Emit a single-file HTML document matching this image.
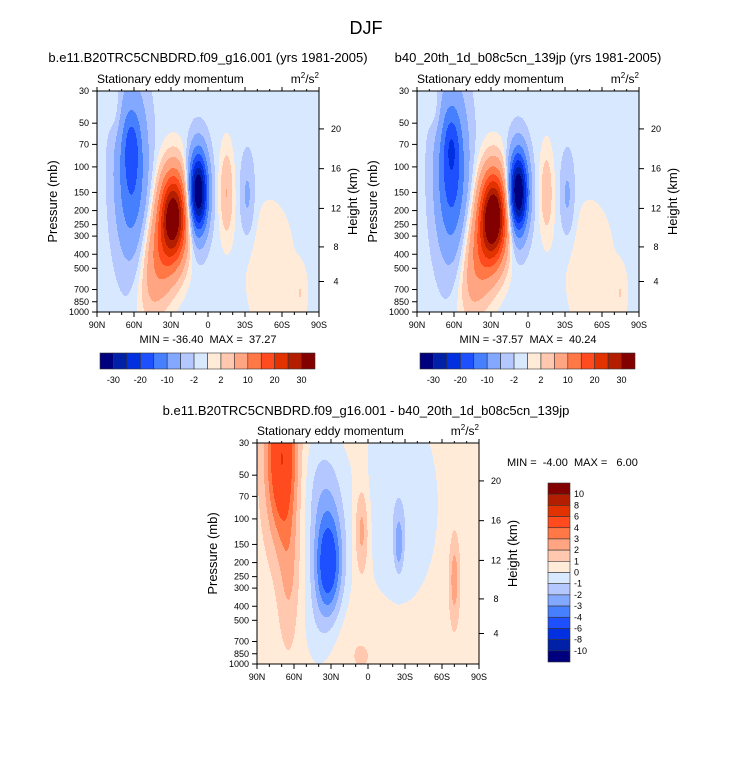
<!DOCTYPE html>
<html><head><meta charset="utf-8">
<style>
html,body{margin:0;padding:0;background:#fff;}
svg{display:block;font-family:"Liberation Sans",Arial,sans-serif;}
text{white-space:pre;}
</style></head>
<body>
<svg id="fig" width="733" height="758" viewBox="0 0 733 758">
<text x="366" y="34" font-size="18" text-anchor="middle">DJF</text>
<g id="p1"></g>
<g id="p2"></g>
<g id="p3"></g>
</svg>
<script>
// ---- data ----
const colors = ["#00007F","#0020A8","#0030E0","#1E50FF","#4680FF","#82A8FF","#B4C8FF","#D7E8FF","#FFEBD7","#FFC8AF","#FFA582","#FF7846","#FF4B1E","#E13200","#B41E00","#820000"];
const levelsAB = [-30,-25,-20,-15,-10,-5,-2,0,2,5,10,15,20,25,30];
const levelsAB_labels = ["-30","-20","-10","-2","2","10","20","30"];
const levelsD = [-10,-8,-6,-4,-3,-2,-1,0,1,2,3,4,6,8,10];
const pTicks = [30,50,70,100,150,200,250,300,400,500,700,850,1000];
const hTicks = [4,8,12,16,20];
const latTicks = [90,60,30,0,-30,-60,-90];
const latLabels = ["90N","60N","30N","0","30S","60S","90S"];
// blob fields: lat, pressure (mb), amplitude, sigma lat (deg), sigma ln p
const aLat = [62,62,28,40,8,-15,-32,48,-50,75,-75];
const aP   = [110,70,220,420,150,150,160,800,500,40,750];
const aAmp = [-15,-5,36,10,-36,6,-5,3,2.5,2.5,2.5];
const aSL  = [9,4,8,9,5.5,4,4,8,15,4,4];
const aSU  = [0.9,0.3,0.5,0.5,0.45,0.5,0.45,0.4,0.8,0.3,0.3];
const aBase = -1;
const bLat = [62,62,28,40,8,-15,-32,48,-50,75,-75];
const bP   = [110,70,220,420,150,150,160,800,500,40,750];
const bAmp = [-17,-5,39,10,-37,5,-5,3,2.5,2.5,2.5];
const bSL  = [9,4,8,9,5.5,4,4,8,15,4,4];
const bSU  = [0.9,0.3,0.5,0.5,0.45,0.5,0.45,0.4,0.8,0.3,0.3];
const bBase = -1;
const dLat = [70,64,32,32,5,-25,-70,5,38,-25,40];
const dP   = [38,250,220,120,120,150,260,850,60,80,500];
const dAmp = [5.5,1.5,-4.3,-1.5,2.3,-2.3,2.2,0.6,-1.3,-1.4,-0.9];
const dSL  = [9,6,8,10,4,2.5,3,15,12,22,10];
const dSU  = [0.9,0.8,0.55,0.7,0.5,0.3,0.5,0.4,0.7,1.1,0.6];
const dBase = 0.5;

const NS="http://www.w3.org/2000/svg";
function mk(parent,tag,attrs,txt){const e=document.createElementNS(NS,tag);for(const k in attrs)e.setAttribute(k,attrs[k]);if(txt!==undefined)e.textContent=txt;parent.appendChild(e);return e;}
function hToP(km){const z=km*1000;return z<11000?1013.25*Math.pow(1-2.2558e-5*z,5.256):226.32*Math.exp(-(z-11000)/6341.6);}

function panel(g,L,T,W,H,bl,fld,levels,title,minmax){
  const xS=lat=>L+(90-lat)/180*W;
  const yS=p=>T+Math.log(p/30)/Math.log(1000/30)*H;
  const latOf=x=>90-(x-L)/W*180;
  const uOf=y=>Math.log(30)+(y-T)/H*Math.log(1000/30);
  function val(lat,u){let v=bl;for(let i=0;i<fld[0].length;i++){const dl=(lat-fld[0][i])/fld[3][i],du=(u-Math.log(fld[1][i]))/fld[4][i];v+=fld[2][i]*Math.exp(-0.5*(dl*dl+du*du));}return v;}
  function lvl(v){let k=0;while(k<levels.length&&v>=levels[k])k++;return k;}
  const cg=mk(g,'g',{});
  
  
  for(let y=0;y<H;y++){
    const u=uOf(T+y+0.5);let start=0,cur=lvl(val(latOf(L+0.5),u));
    for(let x=1;x<=W;x++){
      const k=x<W?lvl(val(latOf(L+x+0.5),u)):-1;
      if(k!==cur){const r=mk(cg,'rect',{x:L+start,y:T+y,width:x-start,height:1.2,fill:colors[cur]});
        
        
        start=x;cur=k;}
    }
  }
  mk(g,'rect',{x:L,y:T,width:W,height:H,fill:'none',stroke:'#000','stroke-width':1});
  latTicks.forEach((lt,i)=>{const x=xS(lt);mk(g,'line',{x1:x,x2:x,y1:T+H,y2:T+H+5,stroke:'#000'});mk(g,'line',{x1:x,x2:x,y1:T,y2:T-4,stroke:'#000'});
    const t=mk(g,'text',{x:x,y:T+H+16,'font-size':9,'text-anchor':'middle'},latLabels[i]);
    
    });
  for(let lt=80;lt>-90;lt-=10){if(lt%30===0)continue;const x=xS(lt);mk(g,'line',{x1:x,x2:x,y1:T+H,y2:T+H+3,stroke:'#000'});mk(g,'line',{x1:x,x2:x,y1:T,y2:T-2,stroke:'#000'});}
  pTicks.forEach(p=>{const y=yS(p);mk(g,'line',{x1:L-5,x2:L,y1:y,y2:y,stroke:'#000'});
    const t=mk(g,'text',{x:L-8,y:y+3,'font-size':9,'text-anchor':'end'},String(p));
    
    });
  hTicks.forEach(h=>{const y=yS(hToP(h));mk(g,'line',{x1:L+W,x2:L+W+5,y1:y,y2:y,stroke:'#000'});
    const t=mk(g,'text',{x:L+W+17,y:y+3,'font-size':9,'text-anchor':'middle'},String(h));
    
    });
  const yl=mk(g,'text',{x:0,y:0,'font-size':13,'text-anchor':'middle',transform:`translate(${L-40},${T+H/2}) rotate(-90)`},'Pressure (mb)');
  
  
  const hl=mk(g,'text',{x:0,y:0,'font-size':13,'text-anchor':'middle',transform:`translate(${L+W+38},${T+H/2}) rotate(-90)`},'Height (km)');
  
  
  const st=mk(g,'text',{x:L,y:T-8,'font-size':12},'Stationary eddy momentum');
  
  
  const un=mk(g,'text',{x:L+W,y:T-8,'font-size':12,'text-anchor':'end'});
  
  
  un.innerHTML='m<tspan font-size="8" dy="-5">2</tspan><tspan dy="5">/s</tspan><tspan font-size="8" dy="-5">2</tspan>';
  if(title){const tt=mk(g,'text',{x:L+W/2,y:T-29,'font-size':13,'text-anchor':'middle'},title);
    
    }
  if(minmax){const mm=mk(g,'text',{x:L+W/2,y:T+H+31,'font-size':11,'text-anchor':'middle'},minmax);
    
    }
}
function hbar(g,x0,y0,w,h){
  const bw=w/colors.length;
  colors.forEach((c,i)=>{const r=mk(g,'rect',{x:x0+i*bw,y:y0,width:bw,height:h,fill:c,stroke:'#333','stroke-width':0.6});
    
    });
  levelsAB_labels.forEach((s,j)=>{const i=2*j+1;const t=mk(g,'text',{x:x0+i*bw,y:y0+h+14,'font-size':9,'text-anchor':'middle'},s);
    
    });
}
const g1=document.getElementById('p1'),g2=document.getElementById('p2'),g3=document.getElementById('p3');
panel(g1,97,91,222,221,aBase,[aLat,aP,aAmp,aSL,aSU],levelsAB,'b.e11.B20TRC5CNBDRD.f09_g16.001 (yrs 1981-2005)','MIN = -36.40  MAX =  37.27');
hbar(g1,100,353,215,16);
panel(g2,417,91,222,221,bBase,[bLat,bP,bAmp,bSL,bSU],levelsAB,'b40_20th_1d_b08c5cn_139jp (yrs 1981-2005)','MIN = -37.57  MAX =  40.24');
hbar(g2,420,353,215,16);
panel(g3,257,443,222,221,dBase,[dLat,dP,dAmp,dSL,dSU],levelsD,'','');
const t3=mk(g3,'text',{x:366,y:415,'font-size':13,'text-anchor':'middle'},'b.e11.B20TRC5CNBDRD.f09_g16.001 - b40_20th_1d_b08c5cn_139jp');


const mm3=mk(g3,'text',{x:507,y:466,'font-size':11},'MIN =  -4.00  MAX =   6.00');


// vertical colorbar
(function(){const x0=548,y0=483,w=22,h=179,bh=h/colors.length;
  for(let i=0;i<colors.length;i++){const r=mk(g3,'rect',{x:x0,y:y0+i*bh,width:w,height:bh,fill:colors[colors.length-1-i],stroke:'#333','stroke-width':0.6});
    
    }
  for(let i=0;i<levelsD.length;i++){const t=mk(g3,'text',{x:x0+w+4,y:y0+(i+1)*bh+3,'font-size':9},String(levelsD[levelsD.length-1-i]));
    
    }
})();
</script>
</body></html>
